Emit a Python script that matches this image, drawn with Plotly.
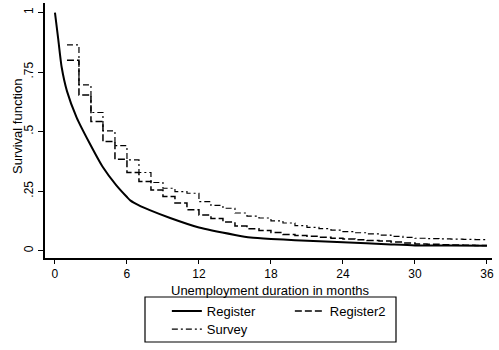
import plotly.graph_objects as go

# Register: smooth survival curve
reg_t = [0, 0.28, 0.56, 1, 1.8, 2.9, 4, 5.1, 6.0, 6.3, 7, 7.9, 9.6, 12, 15, 16.3, 18, 20, 24, 28, 30, 33, 36]
reg_s = [1.0, 0.885, 0.77, 0.67, 0.56, 0.45, 0.35, 0.275, 0.225, 0.21, 0.19, 0.17, 0.137, 0.097, 0.066, 0.055, 0.049, 0.044, 0.035, 0.026, 0.022, 0.021, 0.02]

# Monthly step functions (value holds from month t to t+1)
months = list(range(1, 37))
register2 = [0.80, 0.654, 0.542, 0.458, 0.384, 0.328, 0.29, 0.255, 0.227, 0.200,
             0.172, 0.150, 0.135, 0.120, 0.103, 0.092, 0.085, 0.076, 0.068, 0.064,
             0.060, 0.056, 0.052, 0.049, 0.046, 0.043, 0.040, 0.036, 0.032, 0.028,
             0.027, 0.025, 0.024, 0.023, 0.022, 0.022]
survey = [0.864, 0.696, 0.58, 0.503, 0.441, 0.381, 0.328, 0.286, 0.262, 0.248,
          0.241, 0.206, 0.190, 0.178, 0.158, 0.145, 0.137, 0.125, 0.116, 0.105,
          0.098, 0.092, 0.086, 0.080, 0.075, 0.070, 0.065, 0.060, 0.056, 0.052,
          0.050, 0.049, 0.048, 0.047, 0.046, 0.046]

x_ticks = [0, 6, 12, 18, 24, 30, 36]
y_ticks = [0, 0.25, 0.5, 0.75, 1]
y_tick_labels = ["0", ".25", ".5", ".75", "1"]
x_title = "Unemployment duration in months"
y_title = "Survival function"

FONT = "Liberation Sans, Arial, sans-serif"

fig = go.Figure()
fig.add_trace(go.Scatter(x=reg_t, y=reg_s, mode="lines", name="Register", legend="legend",
                         line=dict(color="black", width=2, shape="spline", smoothing=0.6)))
fig.add_trace(go.Scatter(x=months, y=register2, mode="lines", name="Register2", legend="legend",
                         line=dict(color="black", width=1.5, dash="7px,3px", shape="hv")))
fig.add_trace(go.Scatter(x=months, y=survey, mode="lines", name="Survey", legend="legend2",
                         line=dict(color="black", width=1.2, dash="6px,3px,2px,3px", shape="hv")))

leg_common = dict(orientation="h", xanchor="left", yanchor="top",
                  bgcolor="rgba(0,0,0,0)", borderwidth=0,
                  entrywidth=78, entrywidthmode="pixels",
                  font=dict(family=FONT, size=13, color="black"))

fig.update_layout(
    width=499, height=350,
    margin=dict(l=45, r=7, t=3, b=92, autoexpand=False),
    paper_bgcolor="white", plot_bgcolor="white",
    font=dict(family=FONT, size=13, color="black"),
    showlegend=True,
    legend=dict(x=0.2726, y=-0.149, **leg_common),
    legend2=dict(x=0.2726, y=-0.22, **leg_common),
    shapes=[dict(type="rect", xref="paper", yref="paper",
                 x0=(145 - 45) / 447, x1=(396 - 45) / 447,
                 y0=(258 - 342) / 255, y1=(258 - 297) / 255,
                 line=dict(color="black", width=1.2), fillcolor="rgba(0,0,0,0)")],
    annotations=[
        dict(text=x_title, xref="paper", yref="paper", x=(270 - 45) / 447,
             y=(258 - 290) / 255, xanchor="center", yanchor="middle", showarrow=False,
             borderpad=0, font=dict(family=FONT, size=13, color="black")),
        dict(text=y_title, xref="paper", yref="paper", x=(17 - 45) / 447,
             y=(258 - 127) / 255, xanchor="center", yanchor="middle", showarrow=False,
             textangle=-90, font=dict(family=FONT, size=13, color="black")),
    ],
)
fig.update_xaxes(range=[-0.83, 36.42], tickvals=x_ticks, ticks="outside", ticklen=4,
                 tickcolor="black", showline=True, linecolor="black", linewidth=1.5,
                 showgrid=False, zeroline=False, automargin=False,
                 tickfont=dict(size=12))
fig.update_yaxes(range=[-0.031, 1.04], tickvals=y_ticks, ticktext=y_tick_labels,
                 tickangle=-90, ticks="outside", ticklen=5, tickcolor="black",
                 showline=True, linecolor="black", linewidth=1.5,
                 showgrid=False, zeroline=False, automargin=False,
                 tickfont=dict(size=12))

fig.write_html("out.html", config={"displayModeBar": False},
               post_script="document.body.style.margin='0';")
